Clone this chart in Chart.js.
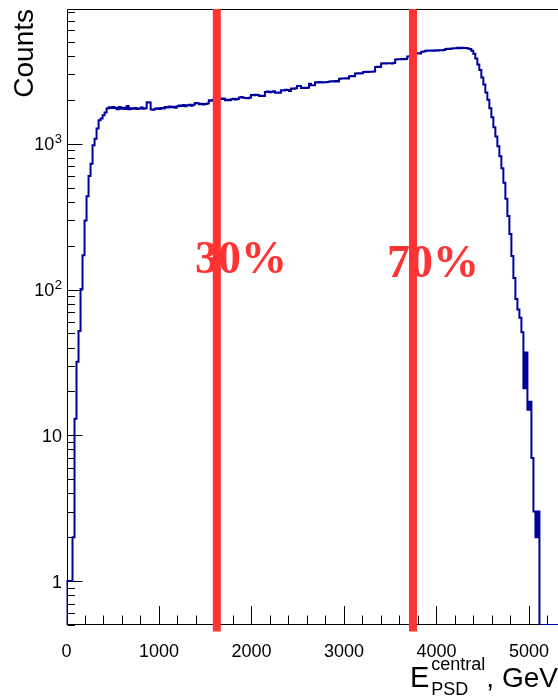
<!DOCTYPE html>
<html><head><meta charset="utf-8">
<script src="https://cdn.jsdelivr.net/npm/chart.js@4.4.1/dist/chart.umd.min.js"></script>
<style>html,body{margin:0;padding:0;background:#fff;overflow:hidden}canvas{display:block}</style>
</head><body>
<canvas id="c" width="558" height="698"></canvas>
<script>
// ---- data ----
const binLow = 65;          // low edge of first filled bin (GeV)
const binWidth = 21.667;    // bin width (GeV)
const counts = [
  1, 2, 13, 32, 52, 101, 172, 297, 437, 600,
  730, 975, 1084, 1270, 1449, 1489, 1570, 1637, 1745, 1780,
  1760, 1785, 1762, 1722, 1790, 1741, 1768, 1728, 1812, 1721,
  1754, 1738, 1762, 1729, 1748, 1770, 1736, 1752, 1925, 1918,
  1716, 1709, 1738, 1752, 1731, 1760, 1744, 1788, 1772, 1801,
  1779, 1796, 1768, 1810, 1832, 1815, 1846, 1808, 1836, 1852,
  1821, 1849, 1902, 1894, 1866, 1880, 1858, 1875, 1890, 1988,
  1975, 2003, 1992, 2010, 2042, 2028, 2047, 1990, 2002, 1985,
  2021, 2034, 2012, 2030, 2078, 2090, 2071, 2060, 2052, 2068,
  2158, 2150, 2171, 2162, 2130, 2138, 2125, 2268, 2281, 2259,
  2274, 2290, 2240, 2248, 2235, 2330, 2322, 2345, 2336, 2300,
  2390, 2384, 2398, 2490, 2485, 2415, 2420, 2408, 2425, 2580,
  2520, 2515, 2640, 2636, 2652, 2630, 2645, 2638, 2650, 2672,
  2680, 2668, 2690, 2676, 2790, 2805, 2798, 2812, 2800, 2905,
  2915, 2908, 3035, 3046, 3038, 3050, 3108, 3115, 3102, 3120,
  3112, 3125, 3355, 3370, 3362, 3548, 3560, 3552, 3571, 3566,
  3558, 3575, 3790, 3805, 3798, 3812, 3804, 3820, 3960, 3985,
  4010, 4035, 4160, 4172, 4155, 4280, 4295, 4340, 4355, 4338,
  4362, 4345, 4370, 4358, 4380, 4372, 4390, 4470, 4485, 4462,
  4500, 4525, 4512, 4548, 4520, 4555, 4530, 4540, 4510, 4460,
  4350, 4150, 3850, 3500, 3200, 2850, 2550, 2250, 2000, 1750,
  1520, 1300, 1120, 960, 820, 680, 540, 420, 320, 240,
  170, 120, 86, 73, 64, 51, 21, 37, 15, 17,
  7, 3, 2, 3
];
const cutValues = [1625, 3746];
const cutLabels = ['30%', '70%'];
const xTickValues = [0, 1000, 2000, 3000, 4000, 5000];
const xTickLabels = ['0', '1000', '2000', '3000', '4000', '5000'];
const yTickValues = [1, 10, 100, 1000];
const yTickBase = ['1', '10', '10', '10'];
const yTickSup = ['', '', '2', '3'];

// ---- axis ranges & label anchors (not data) ----
const xMin = 0, xMax = 5314, yMin = 0.5, yMax = 8400;
const cutLabelAnchors = [{x: 1389, y: 130}, {x: 3465, y: 121}];

// build histogram step points
const histPoints = [{x: xMin, y: yMin}];
counts.forEach((c, i) => histPoints.push({x: binLow + i * binWidth, y: c > 0 ? c : yMin}));
histPoints.push({x: binLow + counts.length * binWidth, y: yMin});
histPoints.push({x: xMax, y: yMin});

const cutDatasets = cutValues.map(v => ({
  data: [{x: v, y: yMax}, {x: v, y: 0.452}],
  borderColor: '#ff3333', borderWidth: 8, pointRadius: 0,
  borderCapStyle: 'butt', clip: false, order: 1, tension: 0
}));

const SANS = '"Liberation Sans", Arial, Helvetica, sans-serif';

const rootAxes = {
  id: 'rootAxes',
  beforeDatasetsDraw(chart) {
    const {ctx, chartArea: a, scales: {x, y}} = chart;
    ctx.save();
    ctx.strokeStyle = '#000';
    ctx.lineWidth = 1;
    const L = Math.round(a.left) + 0.5, B = Math.round(a.bottom) - 0.5, T = Math.round(a.top) + 0.5;
    ctx.beginPath();
    ctx.moveTo(L, B); ctx.lineTo(L, T); ctx.lineTo(a.right, T);
    ctx.moveTo(L, B); ctx.lineTo(a.right, B);
    for (let e = -1; e <= 4; e++) {
      for (let k = 1; k <= 9; k++) {
        const v = k * Math.pow(10, e);
        if (v < y.min - 1e-9 || v > y.max) continue;
        const py = Math.round(y.getPixelForValue(v)) + 0.5;
        const len = k === 1 ? 15 : 7.5;
        ctx.moveTo(L, py); ctx.lineTo(L + len, py);
      }
    }
    for (let v = 0; v <= x.max; v += 200) {
      const px = Math.round(x.getPixelForValue(v)) + 0.5;
      const len = v % 1000 === 0 ? 18.5 : 9;
      ctx.moveTo(px, B); ctx.lineTo(px, B - len);
    }
    ctx.stroke();

    ctx.fillStyle = '#000';
    // x tick labels
    ctx.font = '18px ' + SANS;
    ctx.textAlign = 'center';
    ctx.textBaseline = 'alphabetic';
    xTickValues.forEach((v, i) => {
      ctx.fillText(xTickLabels[i], x.getPixelForValue(v), 657);
    });
    // y tick labels
    const right = 62;
    yTickValues.forEach((v, i) => {
      const py = y.getPixelForValue(v);
      let supW = 0;
      if (yTickSup[i]) {
        ctx.font = '13px ' + SANS;
        ctx.textAlign = 'right';
        supW = ctx.measureText(yTickSup[i]).width;
        ctx.fillText(yTickSup[i], right, py - 1);
      }
      ctx.font = '18px ' + SANS;
      ctx.textAlign = 'right';
      ctx.fillText(yTickBase[i], right - supW - (supW ? 0.5 : 0), py + 6.5);
    });

    // y title
    ctx.save();
    ctx.font = '28px ' + SANS;
    ctx.translate(33, 9);
    ctx.rotate(-Math.PI / 2);
    ctx.textAlign = 'right';
    ctx.fillText('Counts', 0, 0);
    ctx.restore();

    // x title: E^{central}_{PSD}, GeV
    ctx.textAlign = 'left';
    ctx.font = '29px ' + SANS;
    const ex = 410;
    const wE = ctx.measureText('E').width;
    ctx.fillText('E', ex, 687);
    ctx.font = '18px ' + SANS;
    const sx = ex + wE + 2;
    const wSup = ctx.measureText('central').width;
    const wSub = ctx.measureText('PSD').width;
    ctx.fillText('central', sx, 670);
    ctx.fillText('PSD', sx, 695);
    ctx.font = '28px ' + SANS;
    ctx.fillText(', GeV', sx + Math.max(wSup, wSub) + 1, 687);
    ctx.restore();
  },
  afterDraw(chart) {
    const {ctx, scales: {x, y}} = chart;
    ctx.save();
    ctx.fillStyle = '#ff3333';
    ctx.font = 'bold 46px "Liberation Serif", "Times New Roman", serif';
    ctx.textAlign = 'left';
    ctx.textBaseline = 'alphabetic';
    cutLabels.forEach((t, i) => {
      ctx.fillText(t, x.getPixelForValue(cutLabelAnchors[i].x), y.getPixelForValue(cutLabelAnchors[i].y));
    });
    ctx.restore();
  }
};

new Chart(document.getElementById('c'), {
  type: 'line',
  data: {
    datasets: [
      {
        data: histPoints,
        borderColor: '#00009c', borderWidth: 2, pointRadius: 0,
        stepped: 'after', order: 2, fill: false
      },
      ...cutDatasets
    ]
  },
  options: {
    responsive: false,
    animation: false,
    devicePixelRatio: 1,
    layout: {padding: {left: 66.5, top: 9, right: 0, bottom: 73}},
    plugins: {legend: {display: false}, tooltip: {enabled: false}},
    events: [],
    scales: {
      x: {type: 'linear', min: xMin, max: xMax, display: false},
      y: {type: 'logarithmic', min: yMin, max: yMax, display: false}
    }
  },
  plugins: [rootAxes]
});
</script>
</body></html>
